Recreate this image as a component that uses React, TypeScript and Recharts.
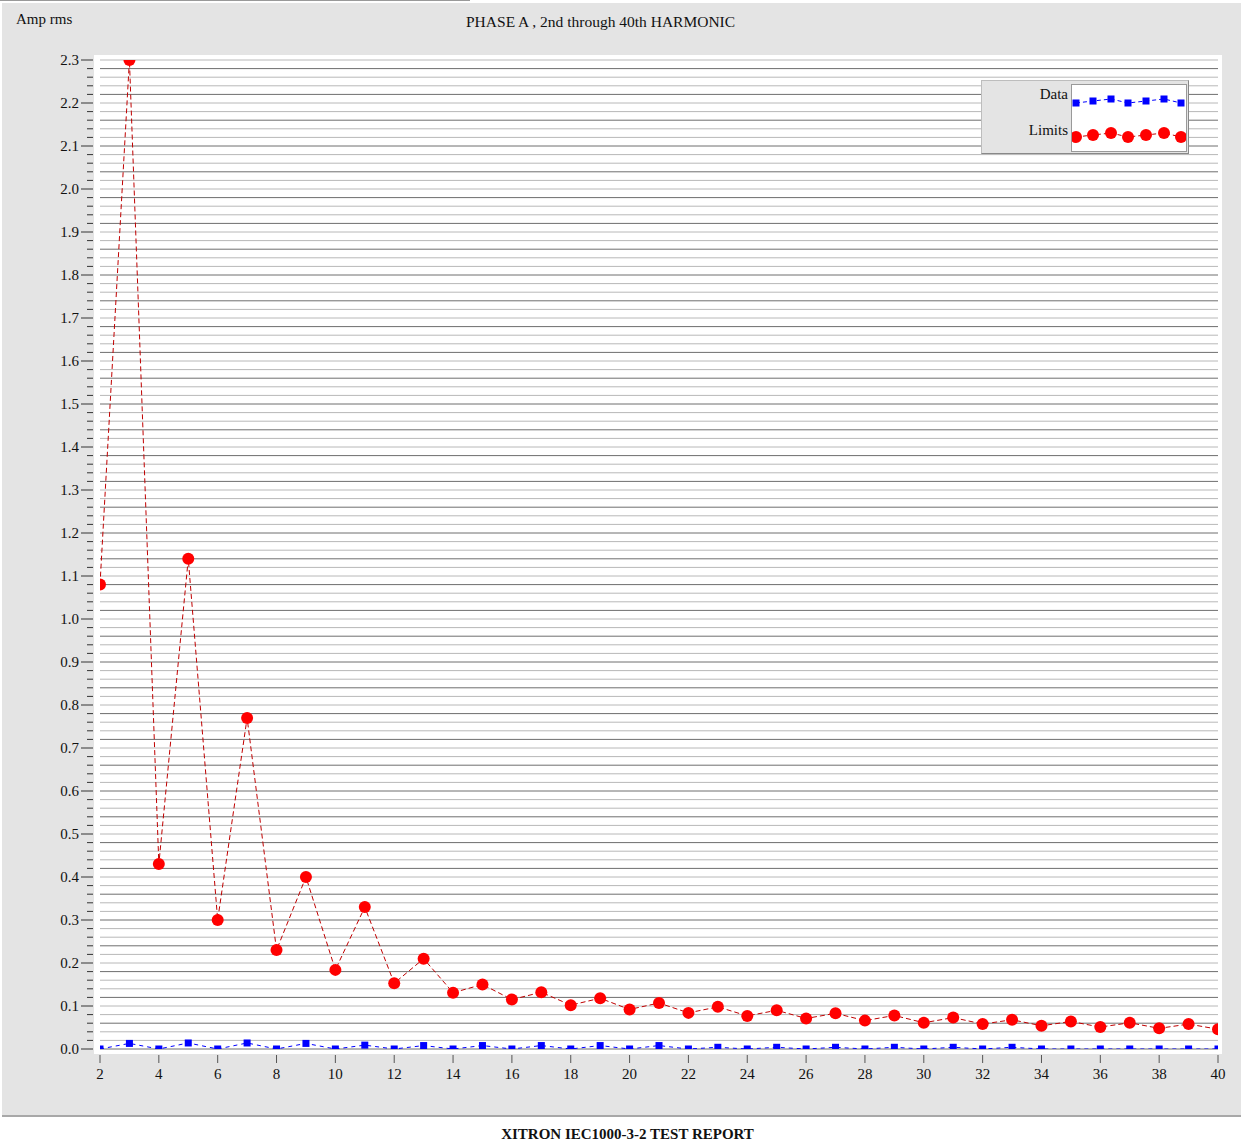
import { CartesianGrid, Legend, Line, LineChart, XAxis, YAxis } from "recharts";

const harmonics = [2, 3, 4, 5, 6, 7, 8, 9, 10, 11, 12, 13, 14, 15, 16, 17, 18, 19, 20, 21, 22, 23, 24, 25, 26, 27, 28, 29, 30, 31, 32, 33, 34, 35, 36, 37, 38, 39, 40];

const measured = [
  0, 0.013, 0, 0.014, 0, 0.014, 0, 0.013, 0, 0.009, 0, 0.008, 0, 0.008, 0, 0.008, 0, 0.008, 0, 0.008,
  0, 0.004, 0, 0.004, 0, 0.004, 0, 0.004, 0, 0.004, 0, 0.004, 0, 0, 0, 0, 0, 0, 0,
];

const limits = [
  1.08, 2.3, 0.43, 1.14, 0.3, 0.77, 0.23, 0.4, 0.184, 0.33, 0.153, 0.21, 0.131, 0.15, 0.115, 0.132, 0.102,
  0.118, 0.092, 0.107, 0.084, 0.098, 0.077, 0.09, 0.071, 0.083, 0.066, 0.078, 0.061, 0.073, 0.058, 0.068,
  0.054, 0.064, 0.051, 0.061, 0.048, 0.058, 0.046,
];

const xTicks = [2, 4, 6, 8, 10, 12, 14, 16, 18, 20, 22, 24, 26, 28, 30, 32, 34, 36, 38, 40];

// minor ticks every 0.02, labels on the 0.1 ones
const yTicks = Array.from({ length: 116 }, (_, i) => (i * 2) / 100);

const data = harmonics.map((h, i) => ({ h, data: measured[i], limit: limits[i] }));

const serif = "'Liberation Serif', 'DejaVu Serif', serif";

function YTick(props: any) {
  const { y, payload } = props;
  const v = payload.value as number;
  const major = Math.round(v * 100) % 10 === 0;
  return (
    <g>
      <line x1={major ? 81 : 87} x2={93} y1={y} y2={y} stroke="#333" strokeWidth={1} />
      {major && (
        <text x={79} y={y + 5} textAnchor="end" fontSize={15} fontFamily={serif} fill="#111">
          {v.toFixed(1)}
        </text>
      )}
    </g>
  );
}

function XTick(props: any) {
  const { x, payload } = props;
  return (
    <g>
      <line x1={x} x2={x} y1={1055} y2={1063} stroke="#555" strokeWidth={1} />
      <text x={x} y={1079} textAnchor="middle" fontSize={15} fontFamily={serif} fill="#111">
        {payload.value}
      </text>
    </g>
  );
}

function SquareDot(props: any) {
  const { cx, cy } = props;
  if (cx == null || cy == null) return null;
  return <rect x={cx - 3.5} y={cy - 3.5} width={7} height={7} fill="#0000ff" clipPath="url(#plot-area)" />;
}

function RoundDot(props: any) {
  const { cx, cy } = props;
  if (cx == null || cy == null) return null;
  return <circle cx={cx} cy={cy} r={6} fill="#ff0000" clipPath="url(#plot-area)" />;
}

function LegendBox() {
  return (
    <div
      style={{
        width: 206,
        height: 72,
        background: "#e4e4e4",
        border: "1px solid #bdbdbd",
        borderRightColor: "#888",
        borderBottomColor: "#888",
        position: "relative",
        fontFamily: serif,
        fontSize: 15,
        color: "#111",
      }}
    >
      <div style={{ position: "absolute", right: 120, top: 5 }}>Data</div>
      <div style={{ position: "absolute", right: 120, top: 41 }}>Limits</div>
      <svg
        width={114}
        height={66}
        style={{ position: "absolute", left: 89, top: 3, background: "#fff", border: "1px solid #999" }}
      >
        <polyline points="4,18 21,16 39,14 56,18 74,16 92,14 109,18" fill="none" stroke="#0000ff" strokeDasharray="4 3" />
        {[
          [4, 18],
          [21, 16],
          [39, 14],
          [56, 18],
          [74, 16],
          [92, 14],
          [109, 18],
        ].map(([x, y], i) => (
          <rect key={i} x={x - 3.5} y={y - 3.5} width={7} height={7} fill="#0000ff" />
        ))}
        <polyline points="4,52 21,50 39,48 56,52 74,50 92,48 109,52" fill="none" stroke="#c00000" strokeDasharray="4 3" />
        {[
          [4, 52],
          [21, 50],
          [39, 48],
          [56, 52],
          [74, 50],
          [92, 48],
          [109, 52],
        ].map(([x, y], i) => (
          <circle key={i} cx={x} cy={y} r={6} fill="#ff0000" />
        ))}
      </svg>
    </div>
  );
}

// grid lines alternate between darker and lighter grey like the scanned original
function GridLine(props: any) {
  const { x1, x2, y1, y2, index } = props;
  const dark = index % 3 === 0;
  return <line x1={x1} x2={x2} y1={y1} y2={y2} stroke={dark ? "#6e6e6e" : "#b8b8b8"} strokeWidth={1} />;
}

export default function App() {
  return (
    <div style={{ position: "absolute", left: 0, top: 0, width: 1243, height: 1147, background: "#fff", overflow: "hidden" }}>
      <div style={{ position: "absolute", left: 0, top: 0, width: 470, height: 1, background: "#999" }} />
      <div
        style={{
          position: "absolute",
          left: 2,
          top: 3,
          width: 1239,
          height: 1112,
          background: "#e4e4e4",
          borderBottom: "2px solid #a8a8a8",
        }}
      />
      <div style={{ position: "absolute", left: 94, top: 55, width: 1128, height: 999, background: "#fff" }} />
      <div style={{ position: "absolute", left: 16, top: 11, fontFamily: serif, fontSize: 15, color: "#111" }}>Amp rms</div>
      <div style={{ position: "absolute", left: 466, top: 13, fontFamily: serif, fontSize: 15.5, color: "#111" }}>
        PHASE A , 2nd through 40th HARMONIC
      </div>
      <div style={{ position: "absolute", left: 0, top: 0 }}>
        <LineChart width={1243} height={1116} data={data} margin={{ top: 60, right: 25, bottom: 0, left: 0 }}>
          <defs>
            <clipPath id="plot-area">
              <rect x={100} y={60} width={1118} height={989} />
            </clipPath>
          </defs>
          <CartesianGrid vertical={false} horizontal={(p: any) => <GridLine key={p.key ?? p.index} {...p} />} />
          <XAxis
            dataKey="h"
            type="number"
            domain={[2, 40]}
            ticks={xTicks}
            interval={0}
            allowDataOverflow
            axisLine={false}
            tickLine={false}
            height={67}
            tick={(p: any) => <XTick {...p} />}
          />
          <YAxis
            type="number"
            domain={[0, 2.3]}
            ticks={yTicks}
            interval={0}
            allowDataOverflow
            axisLine={false}
            tickLine={false}
            width={100}
            tick={(p: any) => <YTick {...p} />}
          />
          <Legend layout="vertical" align="center" verticalAlign="middle" content={() => <LegendBox />} wrapperStyle={{ left: 981, top: 80, width: 208, height: 74 }} />
          <Line
            dataKey="limit"
            stroke="#c00000"
            strokeWidth={1}
            strokeDasharray="5 3"
            dot={(p: any) => <RoundDot key={p.index} {...p} />}
            isAnimationActive={false}
          />
          <Line
            dataKey="data"
            stroke="#0000ff"
            strokeWidth={1}
            strokeDasharray="4 4"
            dot={(p: any) => <SquareDot key={p.index} {...p} />}
            isAnimationActive={false}
          />
        </LineChart>
      </div>
      <div
        style={{
          position: "absolute",
          left: 0,
          width: 1243,
          top: 1126,
          textAlign: "center",
          fontFamily: serif,
          fontSize: 15,
          fontWeight: "bold",
          color: "#111",
          paddingLeft: 6,
        }}
      >
        XITRON IEC1000-3-2 TEST REPORT
      </div>
    </div>
  );
}
